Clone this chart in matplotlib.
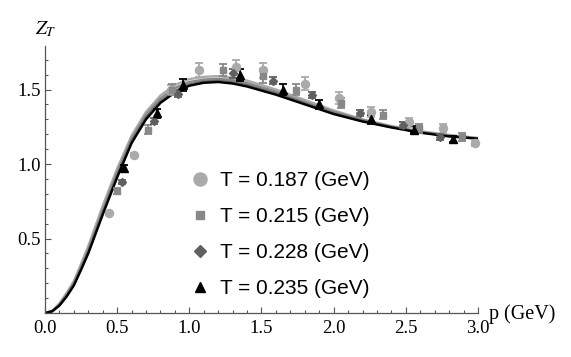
import matplotlib
matplotlib.use('Agg')
import matplotlib.pyplot as plt
from matplotlib.lines import Line2D
from matplotlib.ticker import MultipleLocator, FixedLocator

plt.rcParams['mathtext.fontset'] = 'stix'

# ---------------- data ----------------
labels = ["T = 0.187 (GeV)", "T = 0.215 (GeV)", "T = 0.228 (GeV)", "T = 0.235 (GeV)"]
colors = ["#aaaaaa", "#888888", "#606060", "#000000"]
markers = ["o", "s", "D", "^"]

p_187 = [0.44, 0.62, 0.87, 1.07, 1.32, 1.51, 1.80, 2.04, 2.26, 2.52, 2.76, 2.98]
z_187 = [0.67, 1.06, 1.50, 1.63, 1.65, 1.63, 1.54, 1.44, 1.35, 1.28, 1.24, 1.14]
e_187 = [0.01, 0.015, 0.03, 0.045, 0.05, 0.05, 0.045, 0.04, 0.035, 0.03, 0.03, 0.02]

p_215 = [0.50, 0.715, 0.88, 1.23, 1.51, 1.74, 2.05, 2.34, 2.59, 2.89]
z_215 = [0.82, 1.23, 1.50, 1.63, 1.59, 1.50, 1.41, 1.33, 1.24, 1.18]
e_215 = [0.02, 0.03, 0.035, 0.04, 0.045, 0.04, 0.035, 0.03, 0.03, 0.025]

p_228 = [0.535, 0.755, 0.92, 1.30, 1.58, 1.85, 2.18, 2.48, 2.74]
z_228 = [0.88, 1.29, 1.47, 1.61, 1.56, 1.46, 1.34, 1.26, 1.18]
e_228 = [0.015, 0.02, 0.02, 0.03, 0.025, 0.02, 0.02, 0.02, 0.02]

p_235 = [0.55, 0.775, 0.955, 1.35, 1.65, 1.90, 2.26, 2.56, 2.83]
z_235 = [0.97, 1.34, 1.53, 1.60, 1.50, 1.40, 1.30, 1.23, 1.17]
e_235 = [0.02, 0.03, 0.04, 0.04, 0.035, 0.03, 0.03, 0.025, 0.02]

p_curve = [0, 0.05, 0.1, 0.15, 0.2, 0.25, 0.3, 0.4, 0.5, 0.6, 0.7, 0.8, 0.9, 1.0, 1.1,
           1.2, 1.3, 1.4, 1.6, 1.8, 2.0, 2.2, 2.4, 2.6, 2.8, 3.0]
c_187 = [0, 0.015, 0.065, 0.135, 0.215, 0.33, 0.45, 0.72, 0.97, 1.19, 1.35, 1.46, 1.53, 1.57,
         1.585, 1.59, 1.58, 1.56, 1.50, 1.43, 1.36, 1.30, 1.255, 1.22, 1.195, 1.175]
c_215 = [0, 0.013, 0.057, 0.125, 0.2, 0.31, 0.425, 0.69, 0.945, 1.17, 1.33, 1.44, 1.51, 1.55,
         1.567, 1.572, 1.563, 1.543, 1.485, 1.415, 1.35, 1.295, 1.25, 1.215, 1.19, 1.172]
c_228 = [0, 0.012, 0.052, 0.115, 0.19, 0.295, 0.41, 0.67, 0.92, 1.15, 1.31, 1.42, 1.49, 1.533,
         1.553, 1.558, 1.548, 1.528, 1.472, 1.406, 1.34, 1.29, 1.248, 1.213, 1.187, 1.17]
c_235 = [0, 0.011, 0.05, 0.11, 0.185, 0.29, 0.40, 0.66, 0.91, 1.14, 1.30, 1.41, 1.48, 1.525,
         1.545, 1.55, 1.54, 1.52, 1.465, 1.40, 1.335, 1.285, 1.245, 1.21, 1.185, 1.17]

series = [(p_187, z_187, e_187), (p_215, z_215, e_215), (p_228, z_228, e_228), (p_235, z_235, e_235)]
curves = [c_187, c_215, c_228, c_235]

# ---------------- figure ----------------
W, H = 571, 357
fig = plt.figure(figsize=(W / 100, H / 100), dpi=100)
ax = fig.add_axes([45 / W, (H - 313) / H, 433 / W, (313 - 46.3) / H])
ax.set_xlim(0, 3.0)
ax.set_ylim(0, 1.79)

axcol = "#555555"
for s in ["top", "right"]:
    ax.spines[s].set_visible(False)
for s in ["left", "bottom"]:
    ax.spines[s].set_color(axcol)
    ax.spines[s].set_linewidth(0.9)

for c, col in zip(curves, colors):
    ax.plot(p_curve, c, color=col, lw=1.7, solid_capstyle='round', zorder=2)

msizes = [5.8, 4.6, 4.2, 5.2]
for (p, z, e), col, mk, ms in zip(series, colors, markers, msizes):
    ax.errorbar(p, z, yerr=e, fmt=mk, color=col, ms=ms, mec=col, elinewidth=1.3,
                capsize=2.6, capthick=1.3, zorder=3, clip_on=False)

ax.xaxis.set_major_locator(MultipleLocator(0.5))
ax.xaxis.set_minor_locator(MultipleLocator(0.1))
ax.yaxis.set_major_locator(FixedLocator([0.5, 1.0, 1.5]))
ax.yaxis.set_minor_locator(MultipleLocator(0.1))
ax.xaxis.set_major_formatter(matplotlib.ticker.FormatStrFormatter('%.1f'))
ax.yaxis.set_major_formatter(matplotlib.ticker.FormatStrFormatter('%.1f'))
ax.tick_params(which='both', direction='in', color=axcol, width=0.8)
ax.tick_params(which='major', length=4)
ax.tick_params(which='minor', length=2)
ax.tick_params(axis='x', pad=5)
ax.tick_params(axis='y', pad=3)
for lab in ax.get_xticklabels() + ax.get_yticklabels():
    lab.set_fontfamily('Liberation Serif')
    lab.set_fontsize(13.5)

fig.text(489 / W, 1 - 314 / H, "p (GeV)", family='Liberation Serif', fontsize=14.5,
         ha='left', va='center')
fig.text(46 / W, 1 - 29 / H, r"$Z_T$", fontsize=14, ha='center', va='center')

handles = [Line2D([], [], marker=mk, color=col, linestyle='none', ms=ms)
           for mk, col, ms in zip(markers, colors, [9.4, 6.2, 6.4, 7.4])]
leg = ax.legend(handles, labels, loc='upper left', bbox_to_anchor=(189.6 / W, 1 - 171 / H),
                bbox_transform=fig.transFigure, frameon=False, borderaxespad=0, borderpad=0,
                handlelength=1.0, handletextpad=0.46, labelspacing=0.82,
                prop={'family': 'Liberation Sans', 'size': 15})

fig.savefig("out.png", dpi=100)
